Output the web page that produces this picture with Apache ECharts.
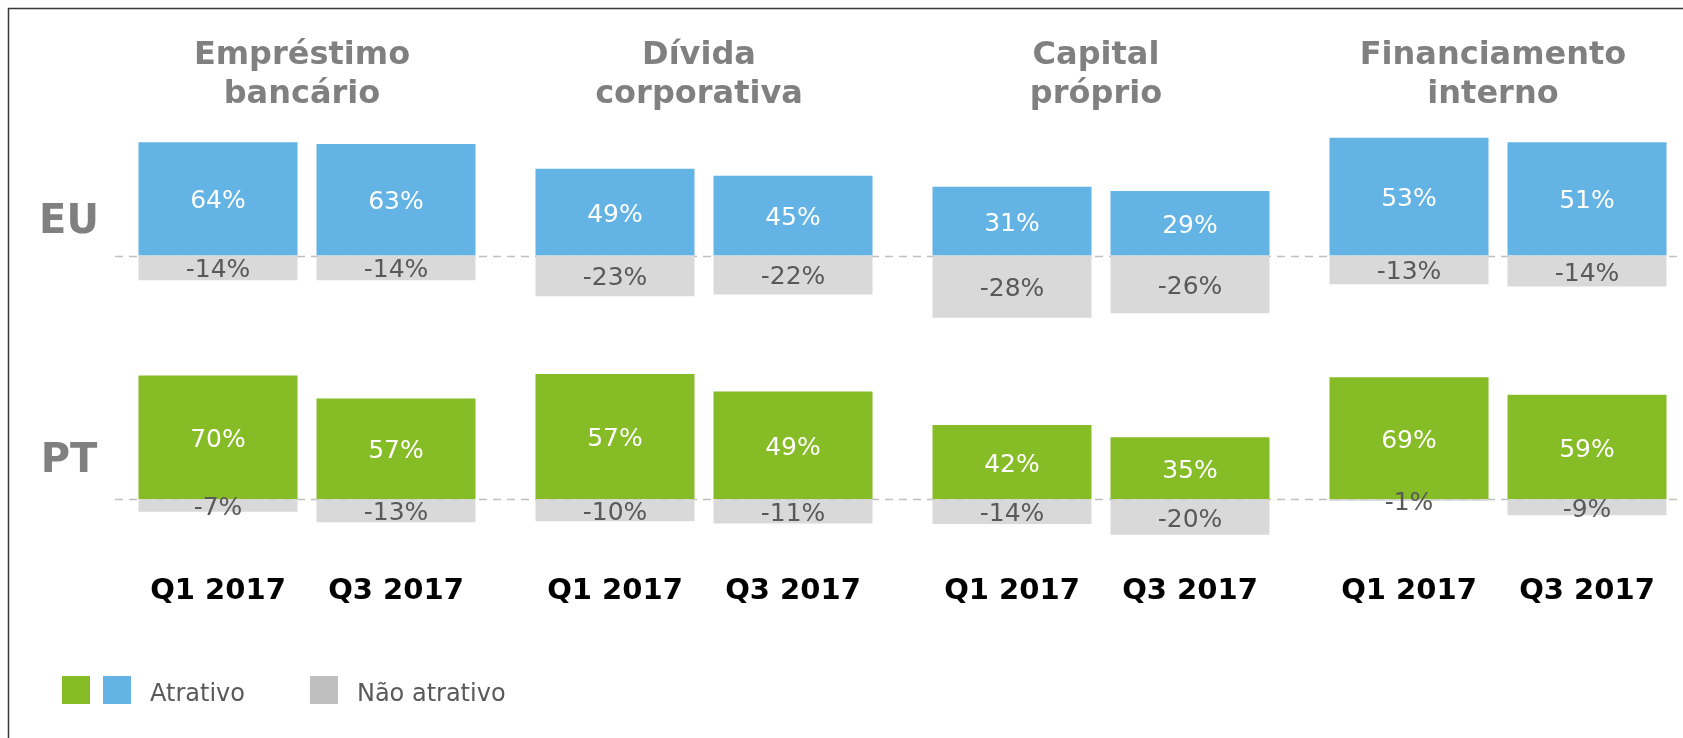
<!DOCTYPE html>
<html>
<head>
<meta charset="utf-8">
<title>Atratividade das fontes de financiamento</title>
<script src="https://cdn.jsdelivr.net/npm/echarts@6/dist/echarts.min.js"></script>
<style>
html, body { margin: 0; padding: 0; background: #fff; }
#chart { width: 1683px; height: 738px; }
</style>
</head>
<body>
<div id="chart"></div>
<script>
// dados
const fontes = ['Empréstimo\nbancário', 'Dívida\ncorporativa', 'Capital\npróprio', 'Financiamento\ninterno']
const periodos = ['Q1 2017', 'Q3 2017']
const regioes = ['EU', 'PT']
const euAtrativo = [[64, 63], [49, 45], [31, 29], [53, 51]]
const euNaoAtrativo = [[-14, -14], [-23, -22], [-28, -26], [-13, -14]]
const ptAtrativo = [[70, 57], [57, 49], [42, 35], [69, 59]]
const ptNaoAtrativo = [[-7, -13], [-10, -11], [-14, -20], [-1, -9]]

// layout (cada painel tem a sua escala, como no original)
const FONT = 'DejaVu Sans'
const groupLeft = 129
const groupPitch = 397
const groupWidth = 356
const rows = [
  { top: 100, height: 240, base: 255.5, pxPerPct: [1.77, 1.77, 2.22, 2.22], color: '#63b3e4', name: 'Atrativo', pos: euAtrativo, neg: euNaoAtrativo, labelY: 203 },
  { top: 340, height: 220, base: 499.3, pxPerPct: [1.77, 2.2, 1.77, 1.77], color: '#86bc25', name: 'Atrativo (PT)', pos: ptAtrativo, neg: ptNaoAtrativo, labelY: 442 }
]

let grids = []
let xAxes = []
let yAxes = []
let series = []

rows.forEach((row, r) => {
  fontes.forEach((f, g) => {
    let idx = r * 4 + g
    let s = row.pxPerPct[g]
    grids.push({ left: groupLeft + g * groupPitch, top: row.top, width: groupWidth, height: row.height })
    xAxes.push({
      type: 'category',
      gridIndex: idx,
      data: periodos,
      position: 'bottom',
      axisLine: { show: false, onZero: false },
      axisTick: { show: false },
      axisLabel: {
        show: r === 1,
        margin: 17,
        color: '#000',
        fontSize: 29,
        fontWeight: 'bold',
        fontFamily: FONT
      }
    })
    yAxes.push({
      type: 'value',
      gridIndex: idx,
      show: false,
      min: -(row.top + row.height - row.base) / s,
      max: (row.base - row.top) / s,
      splitLine: { show: false }
    })
    series.push({
      name: row.name,
      type: 'bar',
      xAxisIndex: idx,
      yAxisIndex: idx,
      stack: 'p' + idx,
      barWidth: 159,
      data: row.pos[g],
      itemStyle: { color: row.color },
      label: {
        show: true,
        position: 'inside',
        offset: [0, 3],
        formatter: p => p.value + '%',
        color: '#fff',
        fontSize: 25,
        fontFamily: FONT
      }
    })
    series.push({
      name: 'Não atrativo',
      type: 'bar',
      xAxisIndex: idx,
      yAxisIndex: idx,
      stack: 'p' + idx,
      barWidth: 159,
      data: row.neg[g],
      itemStyle: { color: '#d9d9d9' },
      label: {
        show: true,
        position: 'inside',
        offset: [0, 3],
        formatter: p => p.value + '%',
        color: '#595959',
        fontSize: 25,
        fontFamily: FONT
      }
    })
  })
})

let textos = []
fontes.forEach((f, g) => {
  textos.push({
    type: 'text',
    x: groupLeft + g * groupPitch + groupWidth / 2 - 5,
    y: 36,
    style: {
      text: f,
      align: 'center',
      verticalAlign: 'top',
      lineHeight: 39,
      fontSize: 32,
      fontWeight: 'bold',
      fontFamily: FONT,
      fill: '#808080'
    }
  })
})
regioes.forEach((reg, r) => {
  textos.push({
    type: 'text',
    x: 69,
    y: rows[r].labelY,
    style: {
      text: reg,
      align: 'center',
      verticalAlign: 'top',
      fontSize: 40,
      fontWeight: 'bold',
      fontFamily: FONT,
      fill: '#808080'
    }
  })
})

let myChart = echarts.init(document.getElementById('chart'))
myChart.setOption({
  animation: false,
  grid: grids,
  xAxis: xAxes,
  yAxis: yAxes,
  series: series,
  legend: [
    {
      left: 62,
      top: 676,
      padding: 0,
      icon: 'rect',
      itemWidth: 28,
      itemHeight: 28,
      selectedMode: false,
      data: ['Atrativo (PT)'],
      formatter: () => ''
    },
    {
      left: 103,
      top: 676,
      padding: 0,
      icon: 'rect',
      itemWidth: 28,
      itemHeight: 28,
      itemGap: 65,
      selectedMode: false,
      data: ['Atrativo', { name: 'Não atrativo', itemStyle: { color: '#bfbfbf' } }],
      formatter: '{t|{name}}',
      textStyle: {
        rich: {
          t: { fontSize: 24, color: '#595959', fontFamily: FONT, padding: [9, 0, 0, 14] }
        }
      }
    }
  ],
  graphic: textos
})

// linha tracejada no zero de cada linha + moldura
let linhas = rows.map((row, r) => {
  let y = Math.round(myChart.convertToPixel({ yAxisIndex: r * 4 }, 0)) + 0.5
  return {
    type: 'line',
    shape: { x1: 115, y1: y, x2: 1683, y2: y },
    style: { stroke: '#bfbfbf', lineWidth: 1.5, lineDash: [8, 6] }
  }
})
linhas.push({
  type: 'polyline',
  shape: { points: [[8.5, 738], [8.5, 8.5], [1683, 8.5]] },
  style: { stroke: '#3a3a3a', lineWidth: 1.5, fill: null }
})
myChart.setOption({ graphic: textos.concat(linhas) })
</script>
</body>
</html>
